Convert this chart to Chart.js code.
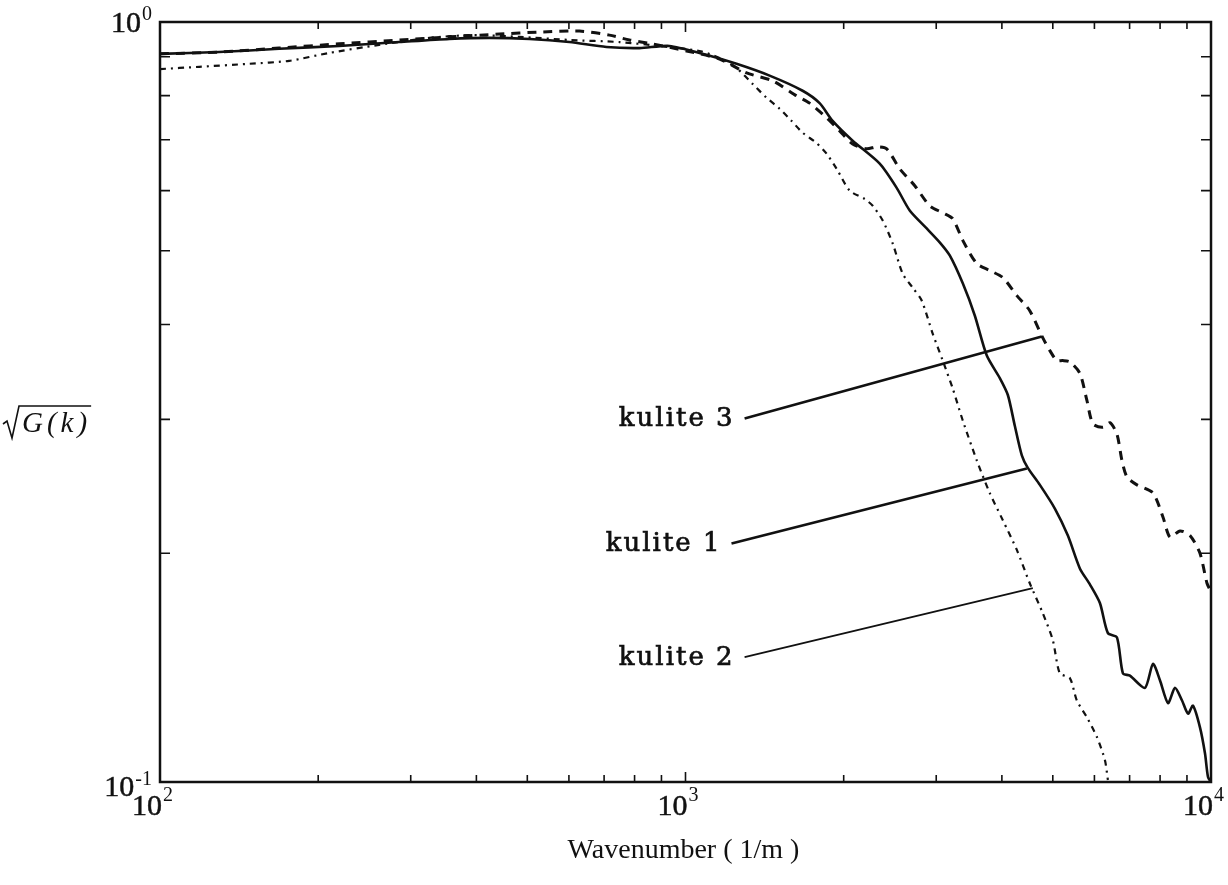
<!DOCTYPE html>
<html>
<head>
<meta charset="utf-8">
<script src="https://cdn.jsdelivr.net/npm/chart.js@4.4.1/dist/chart.umd.min.js"></script>
<style>
  html, body { margin: 0; padding: 0; background: #fff; }
  #wrap { width: 1228px; height: 885px; }
</style>
</head>
<body>
<div id="wrap"><canvas id="grafica"></canvas></div>
<script>
// kulite 1 (solid)
const k1X = [100, 129.5, 168.5, 219.3, 285.2, 355.3, 423.2, 504.6, 601.2, 707.1, 817.3, 932.2, 1077.5, 1250.5, 1445.4, 1670.4, 1799.7, 1905.5, 2080, 2342, 2522.7, 2671, 2877.5, 3046, 3183, 3370, 3552, 3744, 3964, 4106, 4234, 4365, 4481, 4724, 5045, 5341, 5629, 5882, 6146, 6365, 6622, 6798, 7010, 7487, 7755, 7998, 8283, 8541, 8808, 9042, 9241, 9528, 9741, 9870, 10000];
const k1Y = [0.908, 0.913, 0.922, 0.930, 0.941, 0.950, 0.953, 0.950, 0.941, 0.927, 0.924, 0.930, 0.908, 0.881, 0.850, 0.812, 0.782, 0.741, 0.698, 0.651, 0.605, 0.565, 0.535, 0.513, 0.493, 0.453, 0.411, 0.364, 0.340, 0.323, 0.294, 0.269, 0.259, 0.246, 0.229, 0.211, 0.191, 0.182, 0.172, 0.157, 0.155, 0.139, 0.138, 0.133, 0.143, 0.136, 0.127, 0.133, 0.128, 0.123, 0.126, 0.118, 0.109, 0.1015, 0.1];

// kulite 3 (dashed)
const k3X = [100, 129.5, 168.5, 219.3, 285.2, 355.3, 442.4, 527.2, 628.4, 716.6, 782.1, 865.2, 1004.4, 1160.8, 1307, 1464.5, 1627, 1722.4, 1855.9, 1965, 2080, 2212, 2311.5, 2415, 2556, 2731, 2915.7, 3086.6, 3225, 3370, 3583, 3793, 4017, 4271, 4520, 4786, 4936, 5089, 5224, 5388, 5629, 5804, 5960, 6228, 6421, 6622, 6768, 6918, 7228, 7755, 8104, 8356, 8730, 9120, 9528, 9826, 10000];
const k3Y = [0.908, 0.913, 0.924, 0.936, 0.947, 0.956, 0.964, 0.970, 0.973, 0.961, 0.947, 0.936, 0.916, 0.894, 0.857, 0.837, 0.7995, 0.782, 0.748, 0.719, 0.691, 0.681, 0.685, 0.681, 0.641, 0.609, 0.573, 0.561, 0.551, 0.516, 0.481, 0.471, 0.461, 0.4365, 0.417, 0.384, 0.3695, 0.3585, 0.3585, 0.357, 0.345, 0.318, 0.296, 0.293, 0.297, 0.287, 0.265, 0.252, 0.246, 0.240, 0.223, 0.210, 0.214, 0.211, 0.200, 0.1826, 0.178];

// kulite 2 (dash-dot)
const k2X = [100, 118.7, 147.7, 176.1, 209.8, 261.3, 325.4, 392.9, 482.9, 601.2, 748.7, 892.2, 1063, 1160.8, 1250.5, 1341.7, 1426.5, 1510, 1591.7, 1670.4, 1776, 1855.9, 1939.3, 2052.7, 2192.8, 2271.3, 2373, 2479.5, 2590, 2706.5, 2815, 2954, 3086.6, 3225, 3370, 3583, 3793, 4017, 4271, 4520, 4786, 5000, 5156, 5388, 5555, 5804, 6066, 6282, 6365];
const k2Y = [0.867, 0.873, 0.881, 0.889, 0.9105, 0.933, 0.953, 0.961, 0.956, 0.947, 0.941, 0.930, 0.916, 0.897, 0.870, 0.829, 0.795, 0.769, 0.741, 0.715, 0.693, 0.671, 0.641, 0.600, 0.585, 0.573, 0.548, 0.511, 0.4665, 0.447, 0.430, 0.389, 0.3585, 0.3294, 0.299, 0.265, 0.240, 0.221, 0.202, 0.1826, 0.1667, 0.1537, 0.139, 0.137, 0.128, 0.1217, 0.1146, 0.1069, 0.1006];

// callouts: label, start (near label), end (on curve)
const calloutLabels = ["kulite 3", "kulite 1", "kulite 2"];
const calloutX = [[1295.5, 4765], [1223.4, 4462], [1295.5, 4581]];
const calloutY = [[0.3009, 0.3856], [0.206, 0.2586], [0.146, 0.1799]];

// axis ticks
const xTicks = [100, 200, 300, 400, 500, 600, 700, 800, 900, 1000, 2000, 3000, 4000, 5000, 6000, 7000, 8000, 9000, 10000];
const yTicks = [0.1, 0.2, 0.3, 0.4, 0.5, 0.6, 0.7, 0.8, 0.9, 1];
const xLabels = [[100, "10", "2"], [1000, "10", "3"], [10000, "10", "4"]];
const yLabels = [[1, "10", "0"], [0.1, "10", "-1"]];
const xTitle = "Wavenumber ( 1/m )";
const yTitle = "G(k)";

function puntos(xs, ys) {
    return xs.map((x, i) => ({ x: x, y: ys[i] }));
}

const ejesPlugin = {
    id: 'ejes',
    afterDraw(chart) {
        const ctx = chart.ctx;
        const a = chart.chartArea;
        const sx = chart.scales.x;
        const sy = chart.scales.y;
        ctx.save();
        ctx.strokeStyle = '#111';
        ctx.fillStyle = '#111';

        // marco
        ctx.lineWidth = 2.5;
        ctx.strokeRect(a.left, a.top, a.right - a.left, a.bottom - a.top);

        // ticks hacia adentro
        ctx.lineWidth = 1.6;
        xTicks.forEach(v => {
            const px = sx.getPixelForValue(v);
            const mayor = (v === 1000);
            ctx.beginPath();
            ctx.moveTo(px, a.bottom); ctx.lineTo(px, a.bottom - (mayor ? 10 : 7));
            ctx.moveTo(px, a.top); ctx.lineTo(px, a.top + (mayor ? 10 : 7));
            ctx.stroke();
        });
        yTicks.forEach(v => {
            const py = sy.getPixelForValue(v);
            ctx.beginPath();
            ctx.moveTo(a.left, py); ctx.lineTo(a.left + 10, py);
            ctx.moveTo(a.right, py); ctx.lineTo(a.right - 10, py);
            ctx.stroke();
        });

        // etiquetas de potencias
        const base = '30px "Liberation Serif"';
        const sup = '20px "Liberation Serif"';
        ctx.textBaseline = 'alphabetic';
        ctx.textAlign = 'left';
        ctx.lineWidth = 0.5;
        xLabels.forEach(([v, b, e]) => {
            ctx.font = base; const wb = ctx.measureText(b).width;
            ctx.font = sup; const we = ctx.measureText(e).width;
            const px = sx.getPixelForValue(v) - 8 - (wb + we) / 2;
            ctx.font = base; ctx.fillText(b, px, a.bottom + 33); ctx.strokeText(b, px, a.bottom + 33);
            ctx.font = sup; ctx.fillText(e, px + wb + 1, a.bottom + 19);
        });
        yLabels.forEach(([v, b, e]) => {
            ctx.font = base; const wb = ctx.measureText(b).width;
            ctx.font = sup; const we = ctx.measureText(e).width;
            const right = a.left - 8;
            const py = sy.getPixelForValue(v);
            const yb = py + (v === 1 ? 10 : 14);
            ctx.font = base; ctx.fillText(b, right - we - 1 - wb, yb); ctx.strokeText(b, right - we - 1 - wb, yb);
            ctx.font = sup; ctx.fillText(e, right - we, py + (v === 1 ? -2 : 3));
        });

        // titulo eje x
        ctx.font = '28px "Liberation Serif"';
        ctx.textAlign = 'center';
        ctx.fillText(xTitle, (a.left + a.right) / 2 - 2, a.bottom + 76);

        // titulo eje y con raiz
        const yMid = (a.top + a.bottom) / 2;
        ctx.font = 'italic 29px "Liberation Serif"';
        ctx.textAlign = 'left';
        ctx.letterSpacing = '4px';
        const tw = ctx.measureText(yTitle).width;
        ctx.fillText(yTitle, 22, yMid + 30);
        ctx.letterSpacing = '0px';
        ctx.lineWidth = 1.6;
        ctx.beginPath();
        ctx.moveTo(3, yMid + 22);
        ctx.lineTo(7, yMid + 19);
        ctx.lineTo(12, yMid + 36);
        ctx.lineTo(19, yMid + 4);
        ctx.lineTo(22 + tw, yMid + 4);
        ctx.stroke();

        // etiquetas kulite
        ctx.font = '26px "DejaVu Serif"';
        ctx.letterSpacing = '2px';
        ctx.textAlign = 'right';
        ctx.textBaseline = 'middle';
        ctx.lineWidth = 0.7;
        calloutLabels.forEach((t, i) => {
            const px = sx.getPixelForValue(calloutX[i][0]);
            const py = sy.getPixelForValue(calloutY[i][0]);
            ctx.fillText(t, px - 10, py + 1);
            ctx.strokeText(t, px - 10, py + 1);
        });
        ctx.restore();
    }
};

(function () {
    const ctx = document.getElementById('grafica').getContext('2d');
    const datasets = [
        {
            label: 'kulite 1',
            data: puntos(k1X, k1Y),
            borderColor: '#111',
            borderWidth: 2.6
        },
        {
            label: 'kulite 3',
            data: puntos(k3X, k3Y),
            borderColor: '#111',
            borderWidth: 3,
            borderDash: [9, 7]
        },
        {
            label: 'kulite 2',
            data: puntos(k2X, k2Y),
            borderColor: '#111',
            borderWidth: 2.2,
            borderDash: [6, 5, 2, 5]
        }
    ];
    calloutLabels.forEach((t, i) => {
        datasets.push({
            label: t + ' linea',
            data: puntos(calloutX[i], calloutY[i]),
            borderColor: '#111',
            borderWidth: i === 2 ? 1.8 : 2.6,
            tension: 0
        });
    });

    new Chart(ctx, {
        type: 'scatter',
        data: { datasets: datasets },
        options: {
            responsive: true,
            maintainAspectRatio: false,
            animation: false,
            showLine: true,
            elements: {
                point: { radius: 0, hoverRadius: 0 },
                line: { tension: 0.25, fill: false, borderCapStyle: 'butt' }
            },
            layout: { padding: { left: 160, right: 17, top: 22, bottom: 103 } },
            plugins: {
                legend: { display: false },
                tooltip: { enabled: false }
            },
            scales: {
                x: { type: 'logarithmic', min: 100, max: 10000, display: false },
                y: { type: 'logarithmic', min: 0.1, max: 1, display: false }
            }
        },
        plugins: [ejesPlugin]
    });
})();
</script>
</body>
</html>
